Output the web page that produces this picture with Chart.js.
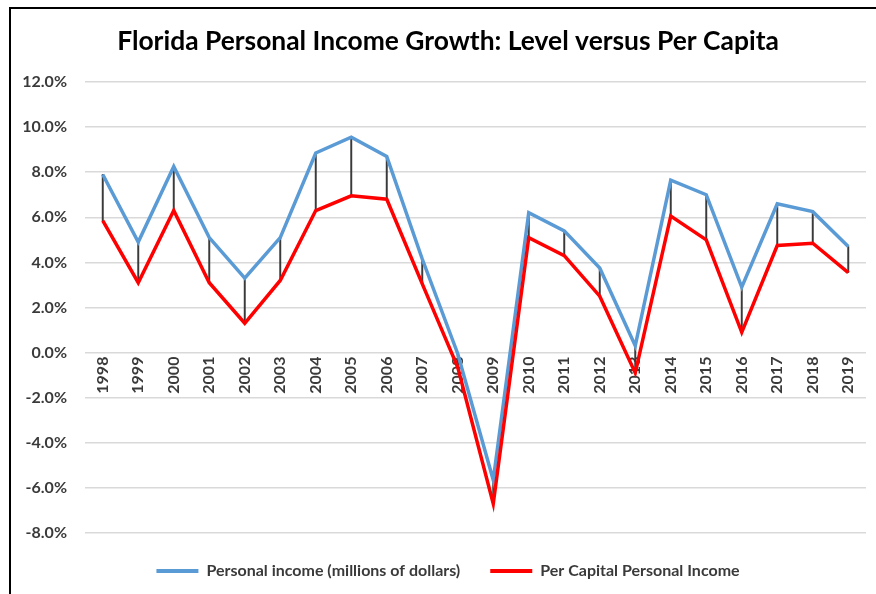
<!DOCTYPE html>
<html><head><meta charset="utf-8">
<script src="https://cdn.jsdelivr.net/npm/chart.js@4"></script>
<style>
html,body{margin:0;padding:0;background:#fff;}
#wrap{position:relative;width:876px;height:594px;overflow:hidden;}
#frame{position:absolute;left:9px;top:7px;width:867px;height:587px;border-left:2px solid #000;border-top:2px solid #000;box-sizing:border-box;pointer-events:none;}
canvas{position:absolute;left:0;top:0;}
</style></head><body>
<div id="wrap"><canvas id="c" width="876" height="594"></canvas><div id="frame"></div></div>
<script>
const years = ['1998','1999','2000','2001','2002','2003','2004','2005','2006','2007','2008','2009','2010','2011','2012','2013','2014','2015','2016','2017','2018','2019'];
const personalIncome = [7.9, 4.9, 8.25, 5.1, 3.3, 5.1, 8.85, 9.55, 8.7, 4.15, -0.05, -5.65, 6.2, 5.4, 3.75, 0.3, 7.65, 7.0, 2.9, 6.6, 6.25, 4.7];
const perCapitaIncome = [5.85, 3.1, 6.3, 3.1, 1.3, 3.2, 6.3, 6.95, 6.8, 3.05, -0.65, -6.7, 5.1, 4.3, 2.5, -0.9, 6.05, 5.0, 0.9, 4.75, 4.85, 3.55];
const yMin = -8, yMax = 12, yStep = 2;
const seriesNames = ['Personal income (millions of dollars)', 'Per Capital Personal Income'];
const titleText = 'Florida Personal Income Growth: Level versus Per Capita';

const FONT = 'Lato, "Liberation Sans", sans-serif';
const highLow = years.map((_, i) => [perCapitaIncome[i], personalIncome[i]]);

new Chart(document.getElementById('c'), {
  data: {
    labels: years,
    datasets: [
      { type: 'line', label: seriesNames[0], data: personalIncome, borderColor: '#5b9bd5', backgroundColor: '#5b9bd5', borderWidth: 3.5, pointRadius: 0, tension: 0, order: 1 },
      { type: 'line', label: seriesNames[1], data: perCapitaIncome, borderColor: '#ff0000', backgroundColor: '#ff0000', borderWidth: 3.5, pointRadius: 0, tension: 0, order: 0 },
      { type: 'bar', label: 'hl', data: highLow, backgroundColor: '#3a3a3a', barThickness: 1.3, order: 2 }
    ]
  },
  options: {
    responsive: false,
    animation: false,
    devicePixelRatio: 1,
    layout: { padding: { left: 0, right: -20, top: 0, bottom: 5 } },
    scales: {
      x: {
        type: 'category',
        offset: true,
        position: { y: 0 },
        grid: { display: false, drawTicks: false },
        border: { display: false },
        ticks: { minRotation: 90, maxRotation: 90, padding: 4, color: '#3a3a3a', font: { family: FONT, size: 16, weight: 'bold' } }
      },
      y: {
        min: yMin, max: yMax,
        grid: { color: '#d9d9d9', lineWidth: 1.5, drawTicks: false },
        border: { display: false },
        afterFit: (s) => { s.width = 85; },
        ticks: { stepSize: yStep, padding: 18, color: '#3a3a3a', font: { family: FONT, size: 16, weight: 'bold' },
          callback: (v) => Number(v).toFixed(1) + '%' }
      },
      yRight: {
        type: 'linear', position: 'right', min: yMin, max: yMax,
        grid: { display: false, drawTicks: false },
        border: { display: false },
        ticks: { display: false },
        afterFit: (s) => { s.width = 30; }
      }
    },
    plugins: {
      title: { display: true, text: titleText, color: '#000', font: { family: FONT, size: 26.4, weight: 'bold' }, padding: { top: 26, bottom: 24.3 } },
      legend: {
        position: 'bottom',
        labels: {
          boxWidth: 42, boxHeight: 4, padding: 30, color: '#3a3a3a',
          font: { family: FONT, size: 16, weight: 'bold' },
          filter: (item) => item.datasetIndex < 2,
          sort: (a, b) => a.datasetIndex - b.datasetIndex,
          generateLabels: (chart) => Chart.defaults.plugins.legend.labels.generateLabels(chart).map(l => Object.assign(l, { lineWidth: 0 }))
        }
      },
      tooltip: { enabled: false }
    }
  }
});
</script>
</body></html>
